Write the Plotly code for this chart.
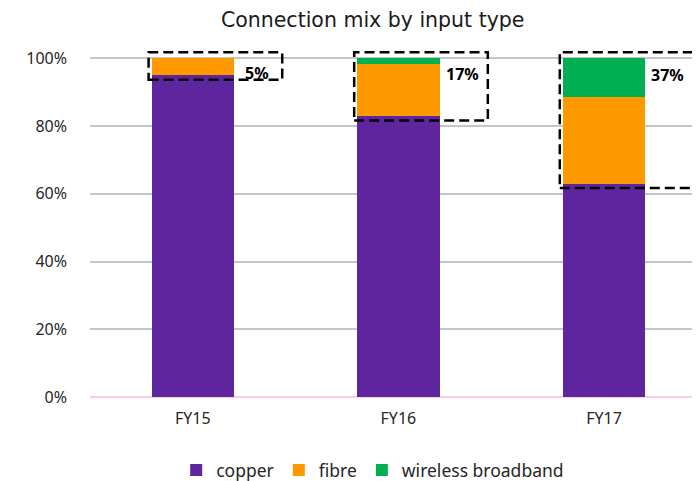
import plotly.graph_objects as go

categories = ["FY15", "FY16", "FY17"]
copper = [95, 83, 63]
fibre = [5, 15.5, 25.5]
wireless = [0, 1.5, 11.5]
change_labels = ["5%", "17%", "37%"]
y_ticks = [0, 20, 40, 60, 80, 100]
y_tick_labels = ["0%", "20%", "40%", "60%", "80%", "100%"]

FONT = "Noto Sans"
colors = {"copper": "#5f259f", "fibre": "#ff9900", "wireless broadband": "#00b050"}

fig = go.Figure()
for name, vals in [("copper", copper), ("fibre", fibre), ("wireless broadband", wireless)]:
    fig.add_trace(go.Bar(x=categories, y=vals, name=name, width=0.4,
                         marker=dict(color=colors[name], line=dict(width=0)),
                         hoverinfo="y+name"))

for i, (c, lab) in enumerate(zip(copper, change_labels)):
    fig.add_shape(type="rect", xref="x", yref="y",
                  x0=i - 0.215, x1=i + 0.435, y0=c - 1.3, y1=101.8,
                  line=dict(color="black", width=2.5, dash="10px,5px"),
                  fillcolor="rgba(0,0,0,0)")
    fig.add_annotation(x=i + 0.31, y=95.8 - 0.4 * i, xref="x", yref="y", text="<b>%s</b>" % lab,
                       showarrow=False, font=dict(size=16, color="black", family=FONT),
                       xanchor="center", yanchor="middle")

# the page places the figure 8px in from the top-left corner
fig.update_layout(
    barmode="stack",
    width=692, height=473,
    margin=dict(l=82, r=0, t=41.5, b=84, autoexpand=False),
    paper_bgcolor="white", plot_bgcolor="white",
    font=dict(family=FONT, size=16, color="#262626"),
    title=dict(text="Connection mix by input type", x=0.527, xanchor="center", xref="container",
               y=0.99, yanchor="top", yref="container",
               font=dict(size=20.5, color="#1a1a1a", family="DejaVu Sans")),
    showlegend=True,
    legend=dict(orientation="h", x=0.527, xanchor="center", xref="container",
                y=0.023, yref="container", yanchor="middle",
                font=dict(size=17.5, color="#262626"), traceorder="normal",
                itemwidth=30),
)
fig.update_xaxes(range=[-0.5, 2.467], showgrid=False, showline=False, ticks="",
                 tickfont=dict(size=16), ticklabelstandoff=10, automargin=False)
fig.update_yaxes(range=[0, 102.5], tickvals=y_ticks, ticktext=y_tick_labels,
                 showgrid=True, gridcolor="#c6c6c6", gridwidth=2,
                 zeroline=True, zerolinecolor="#f9cde6", zerolinewidth=2,
                 showline=False, ticks="", tickfont=dict(size=16), ticklabelstandoff=22,
                 automargin=False)

fig.write_html("out.html")
